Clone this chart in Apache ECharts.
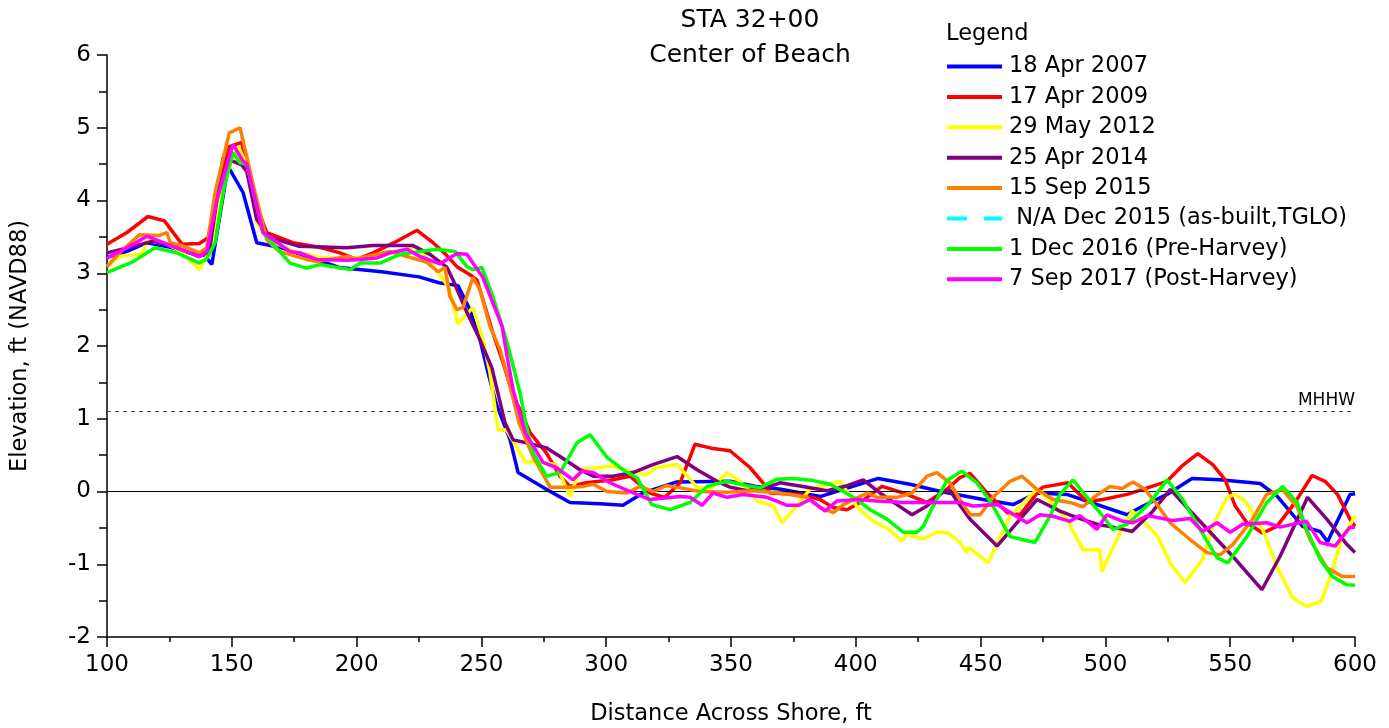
<!DOCTYPE html>
<html>
<head>
<meta charset="utf-8">
<script src="https://cdn.jsdelivr.net/npm/echarts@6/dist/echarts.min.js"></script>
<style>html,body{margin:0;padding:0;background:#fff}#c{width:1389px;height:728px}</style>
</head>
<body>
<div id="c"></div>
<script>
// ---- Data (distance ft, elevation ft NAVD88) ----
const seriesNames = ['18 Apr 2007','17 Apr 2009','29 May 2012','25 Apr 2014','15 Sep 2015',' N/A Dec 2015 (as-built,TGLO)','1 Dec 2016 (Pre-Harvey)','7 Sep 2017 (Post-Harvey)'];
const xTicks = [100,150,200,250,300,350,400,450,500,550,600];
const yTicks = [-2,-1,0,1,2,3,4,5,6];
const MHHW = 1.1;

const apr2007 = [[100,3.22],[108,3.3],[116,3.42],[125,3.36],[133,3.28],[139,3.25],[142,3.12],[148.5,4.47],[154.5,4.11],[160,3.42],[170,3.35],[193,3.08],[210,3.02],[225,2.95],[233,2.87],[240.6,2.83],[245.4,2.5],[249.4,2.09],[252.6,1.64],[256,1.2],[261.5,0.71],[264.7,0.26],[275,0.05],[285.5,-0.15],[297.5,-0.17],[306.7,-0.19],[314.7,-0.02],[328,0.13],[349.6,0.14],[360,0.07],[370,0.03],[385.7,-0.07],[395,0.03],[409,0.18],[421.7,0.1],[434,0.0],[451,-0.11],[463,-0.18],[472.6,-0.02],[484.6,-0.04],[508.7,-0.32],[513.9,-0.22],[524.7,-0.04],[534.7,0.18],[545.9,0.16],[562,0.11],[568.7,-0.06],[579,-0.48],[586,-0.55],[589,-0.69],[598,-0.04],[600,-0.03]];

const apr2009 = [[100,3.4],[108,3.56],[116.4,3.78],[123,3.72],[130,3.4],[137,3.41],[140.5,3.49],[145,4.2],[149,4.74],[154,4.8],[158,4.1],[164,3.56],[174.5,3.42],[186,3.35],[193.3,3.28],[200,3.19],[206.6,3.28],[215,3.42],[224.2,3.59],[230.6,3.42],[236,3.25],[240.2,3.09],[245.4,2.98],[248.2,2.91],[250.6,2.64],[254.6,2.18],[258.7,1.77],[262.3,1.36],[269.5,0.81],[276,0.53],[281.5,0.21],[285.5,0.07],[292,0.12],[302.7,0.16],[309.5,0.21],[317.5,-0.02],[323.5,-0.08],[329.6,0.12],[335.6,0.65],[342.8,0.59],[349.6,0.56],[357.6,0.33],[362.8,0.12],[365.6,-0.02],[377.6,-0.04],[385.7,-0.11],[390.9,-0.22],[396.5,-0.25],[401.7,-0.15],[410.5,0.07],[419,-0.02],[428.5,-0.15],[436.5,0.03],[441.7,0.19],[445.8,0.25],[452.6,-0.02],[460.6,-0.29],[465.8,-0.32],[473.8,0.03],[475,0.06],[485,0.12],[492.6,-0.14],[499,-0.11],[508.7,-0.04],[515,0.03],[524.7,0.14],[531,0.36],[537,0.52],[543,0.37],[548,0.16],[552,-0.2],[556.7,-0.43],[563,-0.57],[568.7,-0.48],[576,-0.15],[582.8,0.22],[588,0.14],[593,-0.04],[598,-0.38],[600,-0.48]];

const may2012 = [[100,3.09],[105,3.23],[114,3.26],[116,3.45],[124,3.4],[130,3.3],[137,3.05],[141,3.3],[146,4.2],[152.5,4.74],[156,4.5],[160,3.7],[165,3.45],[175,3.3],[185,3.22],[195,3.2],[205,3.22],[215,3.28],[224.2,3.37],[233.4,2.98],[237.4,2.78],[240.6,2.3],[246.6,2.53],[250.6,2.09],[253.4,1.64],[256.7,0.85],[260,0.85],[267.5,0.41],[272,0.41],[280,0.37],[285.5,-0.07],[289.5,0.3],[302.7,0.35],[309.5,0.28],[316,0.23],[320,0.33],[328.4,0.37],[336.4,0.06],[341.6,0.03],[348.4,0.26],[353.6,0.14],[360.4,-0.13],[367,-0.2],[370.4,-0.43],[375,-0.25],[381.6,0.03],[393.7,0.14],[400.5,-0.21],[407,-0.41],[412.5,-0.5],[418.5,-0.68],[420.5,-0.59],[427,-0.65],[432.5,-0.56],[437,-0.57],[441.7,-0.7],[444.5,-0.84],[445.4,-0.77],[453,-0.98],[461.8,-0.34],[472.6,0.03],[477.8,-0.13],[484.6,-0.39],[491,-0.8],[497.8,-0.8],[498.6,-1.1],[505.8,-0.57],[510.7,-0.27],[513.9,-0.36],[521,-0.62],[525.9,-0.98],[531.9,-1.25],[539,-0.93],[543,-0.48],[548.7,-0.08],[552,-0.04],[556,-0.13],[563,-0.52],[568.7,-1.03],[575,-1.46],[580.6,-1.58],[586.5,-1.51],[591,-1.07],[594.6,-0.66],[600,-0.34]];

const apr2014 = [[100,3.28],[110.5,3.37],[118.4,3.44],[125,3.39],[137,3.23],[141,3.3],[146.5,4.59],[149,4.56],[154,4.49],[156,4.4],[160,3.74],[165.3,3.49],[177,3.37],[196,3.35],[206.6,3.38],[222.6,3.38],[229.4,3.26],[236.2,3.08],[238.6,2.91],[244.2,2.46],[249.4,2.09],[254.2,1.7],[259.5,0.94],[262.7,0.71],[268,0.67],[276,0.6],[281.5,0.48],[289.5,0.3],[294.8,0.21],[302.7,0.21],[310.7,0.26],[318.7,0.37],[328.4,0.48],[336.4,0.3],[344.4,0.14],[349.6,0.06],[356.4,0.01],[365.6,0.07],[369.6,0.12],[378.8,0.07],[388.5,0.01],[396.5,0.08],[403,0.16],[409.7,-0.02],[416.5,-0.18],[422.5,-0.32],[428.5,-0.2],[434.5,-0.02],[437.7,0.02],[440.5,-0.13],[445.8,-0.38],[456.6,-0.75],[465.8,-0.38],[472.6,-0.11],[481.8,-0.27],[488.6,-0.36],[496.6,-0.45],[504.6,-0.5],[510.7,-0.55],[519,-0.27],[526,0.03],[532.7,-0.22],[542,-0.56],[551,-0.89],[562.7,-1.35],[570,-0.89],[581,-0.08],[588.7,-0.38],[596.8,-0.73],[600,-0.84]];

const sep2015 = [[100,3.09],[105,3.28],[113,3.53],[121,3.52],[124,3.56],[125.4,3.42],[130,3.38],[137,3.28],[140,3.35],[143.3,4.11],[149,4.93],[153.3,5.0],[156,4.6],[159.3,4.11],[164,3.46],[169,3.3],[180,3.19],[184,3.16],[196,3.23],[200,3.2],[213.4,3.3],[220.2,3.23],[228.2,3.15],[232.6,3.02],[235.4,3.08],[237.4,2.68],[240.2,2.5],[242.6,2.53],[246.6,2.94],[249.4,2.78],[253.4,2.27],[257.5,1.95],[261.5,1.45],[265,0.95],[270.7,0.48],[277.5,0.06],[285.5,0.06],[290.7,0.07],[294.8,0.1],[300.3,0.0],[308.3,-0.02],[313.5,0.07],[318.7,0.0],[324.3,0.08],[329.6,0.05],[337.6,0.0],[348.4,-0.01],[358.8,0.01],[369.6,-0.02],[380.4,-0.08],[385.7,-0.22],[391,-0.29],[395,-0.18],[404.5,-0.02],[408.5,-0.08],[416.5,-0.08],[422.5,-0.02],[428.5,0.21],[432.5,0.26],[437.7,0.12],[441.7,-0.11],[445.8,-0.32],[449.8,-0.32],[455,-0.08],[461.8,0.14],[466.6,0.21],[472.6,0.03],[479,-0.11],[485.8,-0.15],[491,-0.21],[495.8,-0.07],[501.8,0.07],[506.7,0.04],[511,0.13],[515.9,0.03],[520.7,-0.18],[525.9,-0.43],[533.9,-0.66],[540.7,-0.84],[545.9,-0.87],[551,-0.73],[559,-0.38],[564.6,-0.04],[570.8,0.03],[576.8,-0.21],[582,-0.66],[588.7,-1.05],[595,-1.17],[600,-1.17]];

const dec2015 = []; // N/A (legend entry only)

const dec2016 = [[100,3.01],[110.5,3.16],[119.2,3.35],[128,3.28],[137,3.14],[140,3.2],[143.3,3.42],[147,4.2],[150.5,4.66],[153.3,4.52],[156,4.5],[162.5,3.56],[173.3,3.14],[180,3.07],[185.3,3.12],[197.4,3.05],[201.4,3.14],[209.4,3.14],[217.4,3.26],[232.2,3.33],[239.4,3.3],[244.2,3.09],[246.6,3.05],[250.2,3.08],[254.6,2.68],[260.3,2.05],[265.5,1.35],[268,0.9],[270.7,0.53],[276,0.21],[281.5,0.26],[288.3,0.67],[293.5,0.78],[300.3,0.47],[306.7,0.3],[312.3,0.19],[318.3,-0.18],[325.6,-0.25],[333.6,-0.15],[340.4,0.07],[348.4,0.14],[356.4,0.08],[361.6,0.05],[368.4,0.17],[375,0.18],[382.9,0.15],[389.7,0.1],[395,0.0],[400.5,-0.11],[405.7,-0.25],[412.5,-0.38],[419,-0.56],[424.5,-0.56],[427,-0.48],[431,-0.2],[436.5,0.15],[442.5,0.28],[448.5,0.12],[453.8,-0.13],[461.8,-0.62],[471.8,-0.7],[477.8,-0.34],[481.8,-0.04],[487,0.16],[493.8,-0.13],[499,-0.34],[503,-0.52],[508.7,-0.45],[511,-0.38],[517.9,-0.15],[524.7,0.16],[531,-0.11],[537.9,-0.52],[544.7,-0.91],[549,-0.98],[556.7,-0.62],[564.7,-0.15],[571,0.07],[576.8,-0.15],[580.6,-0.52],[586,-0.93],[591,-1.17],[596.6,-1.28],[600,-1.29]];

const sep2017 = [[100,3.21],[108,3.35],[116,3.51],[124,3.4],[137,3.23],[140,3.3],[144,4.0],[150.5,4.77],[154.5,4.54],[156,4.5],[162.5,3.56],[173.3,3.3],[177.3,3.28],[184,3.19],[196,3.18],[201.4,3.19],[208.2,3.21],[213.4,3.28],[220.2,3.33],[225.4,3.23],[233.4,3.13],[240.2,3.27],[244.2,3.26],[250.6,2.94],[258.3,2.27],[260.3,1.86],[262.7,1.4],[267.5,0.81],[274.7,0.4],[280,0.33],[286.7,0.16],[290.3,0.28],[294.8,0.26],[301.5,0.12],[309.5,0.0],[317.5,-0.11],[329.6,-0.07],[333.6,-0.08],[338.4,-0.19],[342.8,-0.02],[348.4,-0.08],[354.8,-0.04],[364.4,-0.08],[369.6,-0.15],[372.4,-0.19],[377,-0.19],[381.6,-0.11],[387.7,-0.27],[392.5,-0.13],[400.5,-0.11],[408.5,-0.13],[420,-0.15],[433.7,-0.15],[441.7,-0.15],[447,-0.2],[456.6,-0.18],[468.6,-0.43],[473.8,-0.32],[479,-0.34],[485.8,-0.41],[489.8,-0.33],[496.6,-0.52],[500.6,-0.32],[507,-0.41],[511,-0.43],[517,-0.33],[527,-0.4],[533.9,-0.37],[539,-0.55],[544.7,-0.43],[550,-0.56],[555,-0.45],[564.7,-0.43],[570,-0.49],[580.6,-0.41],[586,-0.7],[592,-0.75],[598,-0.49],[600,-0.49]];

const seriesData = [apr2007, apr2009, may2012, apr2014, sep2015, dec2015, dec2016, sep2017];
const seriesColors = ['#0000ff','#ff0000','#ffff00','#800080','#ff8000','#00ffff','#00ff00','#ff00ff'];

// ---- Chart ----
const FONT = 'DejaVu Sans, sans-serif';
const chart = echarts.init(document.getElementById('c'), null, {renderer: 'canvas'});

const lineSeries = seriesNames.map((name, i) => ({
  name: name,
  type: 'line',
  data: seriesData[i],
  showSymbol: false,
  symbol: 'none',
  animation: false,
  color: seriesColors[i],
  itemStyle: {color: seriesColors[i], borderWidth: 0},
  lineStyle: {color: seriesColors[i], width: 3.5, type: i === 5 ? [20, 17] : 'solid'},
  z: 3 + i
}));

lineSeries.unshift({
  name: 'refLines',
  type: 'line',
  data: [],
  silent: true,
  animation: false,
  z: 1,
  markLine: {
    silent: true,
    symbol: ['none', 'none'],
    animation: false,
    data: [
      {yAxis: 0, lineStyle: {color: '#000', width: 1, type: 'solid'}, label: {show: false}},
      {yAxis: MHHW, lineStyle: {color: '#555', width: 1, type: [4, 4]},
        label: {show: true, position: 'insideEndTop', formatter: 'MHHW', color: '#000', fontSize: 17, fontFamily: FONT, distance: [0, 2]}}
    ]
  }
});

const legendData = seriesNames.map((name, i) => ({
  name: name,
  icon: i === 5 ? 'path://M0 0H20V4H0Z M37 0H55V4H37Z' : 'rect'
}));

chart.setOption({
  backgroundColor: '#fff',
  animation: false,
  textStyle: {fontFamily: FONT},
  title: [
    {text: 'STA 32+00\nCenter of Beach', left: 750, top: 3, padding: 0, textAlign: 'center',
      textStyle: {fontSize: 25, fontWeight: 'normal', color: '#000', lineHeight: 35, fontFamily: FONT}},
    {text: 'Legend', left: 946, top: 23, padding: 0,
      textStyle: {fontSize: 22.5, fontWeight: 'normal', color: '#000', fontFamily: FONT}}
  ],
  legend: {
    data: legendData,
    orient: 'vertical',
    left: 947,
    top: 55,
    padding: 0,
    itemWidth: 55,
    itemHeight: 4,
    itemGap: 7.4,
    itemStyle: {borderWidth: 0},
    textStyle: {fontSize: 22.5, color: '#000', lineHeight: 22, fontFamily: FONT, padding: [0, 0, 0, 2]},
    selectedMode: false
  },
  grid: {left: 107, right: 34, top: 55, bottom: 91, containLabel: false, outerBoundsMode: 'none'},
  xAxis: {
    type: 'value',
    min: 100, max: 600, interval: 50,
    name: 'Distance Across Shore, ft',
    nameLocation: 'middle',
    nameGap: 66,
    nameTextStyle: {fontSize: 22.5, color: '#000', fontFamily: FONT},
    axisLine: {onZero: false, lineStyle: {color: '#000', width: 1.5}},
    axisTick: {show: true, length: 10, lineStyle: {color: '#000', width: 1.5}},
    minorTick: {show: true, splitNumber: 2, length: 5, lineStyle: {color: '#000', width: 1.5}},
    axisLabel: {fontSize: 23, color: '#000', margin: 17, fontFamily: FONT,
      formatter: v => xTicks.includes(v) ? String(v) : ''},
    splitLine: {show: false}
  },
  yAxis: {
    type: 'value',
    min: -2, max: 6, interval: 1,
    name: 'Elevation, ft (NAVD88)',
    nameLocation: 'middle',
    nameGap: 75,
    nameRotate: 90,
    nameTextStyle: {fontSize: 22.5, color: '#000', fontFamily: FONT},
    axisLine: {onZero: false, lineStyle: {color: '#000', width: 1.5}},
    axisTick: {show: true, length: 10, lineStyle: {color: '#000', width: 1.5}},
    minorTick: {show: true, splitNumber: 2, length: 8, lineStyle: {color: '#000', width: 1.5}},
    axisLabel: {fontSize: 23, color: '#000', margin: 16, fontFamily: FONT,
      formatter: v => yTicks.includes(v) ? String(v) : ''},
    splitLine: {show: false}
  },
  series: lineSeries
});
</script>
</body>
</html>
